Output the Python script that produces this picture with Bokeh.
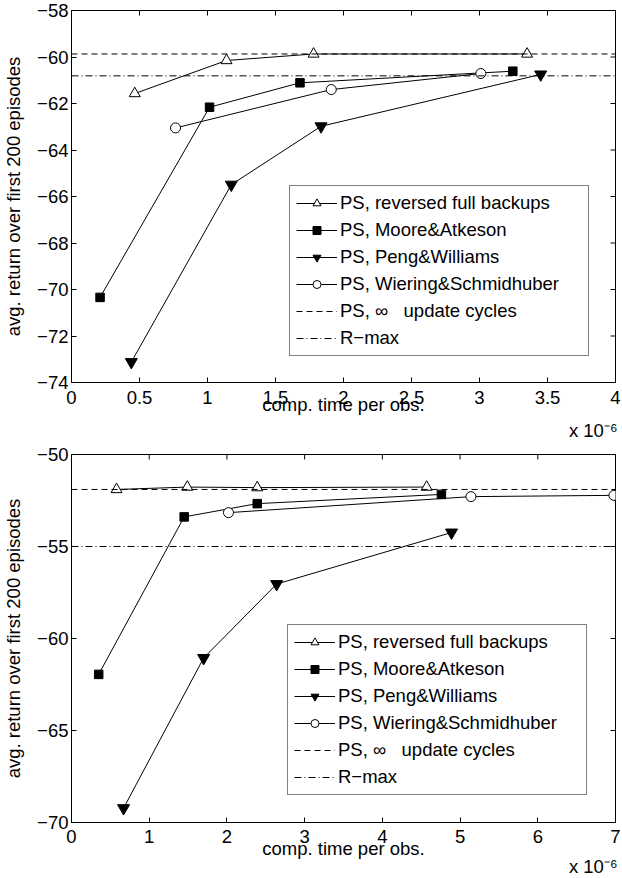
import math
from bokeh.plotting import figure
from bokeh.models import Range1d, FixedTicker, Legend, LegendItem, Title
from bokeh.layouts import column
from bokeh.embed import file_html
from bokeh.resources import INLINE

FONT = "Liberation Sans"
FS = "18.5px"

# ---------------- top panel data ----------------
top_xlim = [0, 4]
top_ylim = [-74, -58]
top_x_ticks = [0, 0.5, 1, 1.5, 2, 2.5, 3, 3.5, 4]
top_x_labels = ["0", "0.5", "1", "1.5", "2", "2.5", "3", "3.5", "4"]
top_y_ticks = [-74, -72, -70, -68, -66, -64, -62, -60, -58]
top_y_labels = ["\u221274", "\u221272", "\u221270", "\u221268", "\u221266", "\u221264", "\u221262", "\u221260", "\u221258"]

top_rev_x = [0.465, 1.14, 1.78, 3.35]
top_rev_y = [-61.57, -60.15, -59.87, -59.87]
top_ma_x = [0.21, 1.015, 1.68, 3.245]
top_ma_y = [-70.34, -62.16, -61.11, -60.61]
top_pw_x = [0.44, 1.175, 1.835, 3.45]
top_pw_y = [-73.12, -65.49, -62.98, -60.75]
top_ws_x = [0.765, 1.91, 3.01]
top_ws_y = [-63.05, -61.40, -60.71]
top_ps_inf = -59.87
top_rmax = -60.81

# ---------------- bottom panel data ----------------
bot_xlim = [0, 7]
bot_ylim = [-70, -50]
bot_x_ticks = [0, 1, 2, 3, 4, 5, 6, 7]
bot_x_labels = ["0", "1", "2", "3", "4", "5", "6", "7"]
bot_y_ticks = [-70, -65, -60, -55, -50]
bot_y_labels = ["\u221270", "\u221265", "\u221260", "\u221255", "\u221250"]

bot_rev_x = [0.58, 1.49, 2.39, 4.57]
bot_rev_y = [-51.9, -51.77, -51.8, -51.77]
bot_ma_x = [0.35, 1.45, 2.39, 4.76]
bot_ma_y = [-61.95, -53.39, -52.67, -52.17]
bot_pw_x = [0.67, 1.70, 2.64, 4.89]
bot_pw_y = [-69.22, -61.06, -57.04, -54.24]
bot_ws_x = [2.02, 5.14, 6.98]
bot_ws_y = [-53.16, -52.29, -52.22]
bot_ps_inf = -51.9
bot_rmax = -55.0

legend_names = ["PS, reversed full backups", "PS, Moore&Atkeson", "PS, Peng&Williams",
                "PS, Wiering&Schmidhuber", "PS, \u221e   update cycles", "R\u2212max"]
x_label = "comp. time per obs."
y_label = "avg. return over first 200 episodes"
x_exponent = "x 10\u207b\u2076"


def make_panel(xlim, ylim, xt, xl, yt, yl, series, ps_inf, rmax,
               frame_h, border_top, border_bottom, legend_loc, tick_so, label_so, title_so):
    p = figure(title=None, output_backend="svg", toolbar_location=None,
               x_range=Range1d(*xlim), y_range=Range1d(*ylim),
               frame_width=544, frame_height=frame_h,
               min_border_left=71, min_border_right=7,
               min_border_top=border_top, min_border_bottom=border_bottom)
    p.background_fill_color = "white"
    p.border_fill_color = "white"
    p.outline_line_color = "black"
    p.outline_line_width = 1
    p.xgrid.visible = False
    p.ygrid.visible = False

    p.xaxis.ticker = FixedTicker(ticks=xt)
    p.xaxis.major_label_overrides = dict(zip(xt, xl))
    p.yaxis.ticker = FixedTicker(ticks=yt)
    p.yaxis.major_label_overrides = dict(zip(yt, yl))
    for ax in (p.xaxis, p.yaxis):
        ax.major_tick_in = 5
        ax.major_tick_out = 0
        ax.minor_tick_line_color = None
        ax.axis_line_color = "black"
        ax.major_tick_line_color = "black"
        ax.major_label_text_font = FONT
        ax.major_label_text_font_size = FS
        ax.major_label_text_color = "black"
        ax.axis_label_text_font = FONT
        ax.axis_label_text_font_size = FS
        ax.axis_label_text_font_style = "normal"
        ax.axis_label_text_color = "black"
    p.xaxis.axis_label = x_label
    p.yaxis.axis_label = y_label
    p.xaxis.major_label_standoff = tick_so
    p.xaxis.axis_label_standoff = label_so
    p.yaxis.major_label_standoff = 3
    p.yaxis.axis_label_standoff = 10

    # inward box ticks on the top and right edges (half of each dash is clipped by the frame)
    p.scatter(xt, [ylim[1]] * len(xt), marker="dash", angle=math.pi / 2, size=10,
              line_color="black", line_width=1)
    p.scatter([xlim[1]] * len(yt), yt, marker="dash", size=10,
              line_color="black", line_width=1)

    items = []
    styles = [("triangle", "white", 11), ("square", "black", 8.5),
              ("inverted_triangle", "black", 12), ("circle", "white", 10)]
    for (sx, sy), (marker, fill, size), name in zip(series, styles, legend_names):
        ln = p.line(sx, sy, line_color="black", line_width=1)
        sc = p.scatter(sx, sy, marker=marker, size=size, fill_color=fill,
                       line_color="black", line_width=1)
        items.append(LegendItem(label=name, renderers=[ln, sc]))

    d1 = p.line(xlim, [ps_inf, ps_inf], line_color="black", line_width=1, line_dash="6 4")
    d2 = p.line(xlim, [rmax, rmax], line_color="black", line_width=1, line_dash="7 3 1 3")
    items.append(LegendItem(label=legend_names[4], renderers=[d1]))
    items.append(LegendItem(label=legend_names[5], renderers=[d2]))

    leg = Legend(items=items, location=legend_loc, orientation="vertical",
                 label_text_font=FONT, label_text_font_size=FS, label_text_color="black",
                 glyph_width=41, glyph_height=20, label_height=20, label_width=242,
                 label_standoff=3, spacing=5, padding=6, margin=0,
                 border_line_color="black", border_line_width=1,
                 background_fill_color="white", background_fill_alpha=1.0)
    p.add_layout(leg, "center")

    p.add_layout(Title(text=x_exponent, align="right", offset=-2, standoff=title_so,
                       text_font=FONT, text_font_size=FS, text_font_style="normal",
                       text_color="black"), "below")
    return p


top = make_panel(top_xlim, top_ylim, top_x_ticks, top_x_labels, top_y_ticks, top_y_labels,
                 [(top_rev_x, top_rev_y), (top_ma_x, top_ma_y), (top_pw_x, top_pw_y), (top_ws_x, top_ws_y)],
                 top_ps_inf, top_rmax, frame_h=372, border_top=10, border_bottom=10,
                 legend_loc=(218, 26), tick_so=8, label_so=-13, title_so=0)
bot = make_panel(bot_xlim, bot_ylim, bot_x_ticks, bot_x_labels, bot_y_ticks, bot_y_labels,
                 [(bot_rev_x, bot_rev_y), (bot_ma_x, bot_ma_y), (bot_pw_x, bot_pw_y), (bot_ws_x, bot_ws_y)],
                 bot_ps_inf, bot_rmax, frame_h=368, border_top=14, border_bottom=56,
                 legend_loc=(216, 27), tick_so=7, label_so=-8, title_so=-15)

layout = column(top, bot, spacing=0)
open("out.html", "w").write(file_html(layout, INLINE))
